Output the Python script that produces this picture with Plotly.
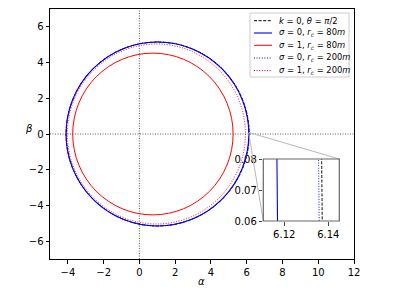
import plotly.graph_objects as go

# Shadow extents: (alpha_left, alpha_right, beta_bottom, beta_top)
names = ["<i>k</i> = 0, <i>θ</i> = <i>π</i>/2",
         "<i>σ</i> = 0, <i>r<sub>c</sub></i> = 80<i>m</i>",
         "<i>σ</i> = 1, <i>r<sub>c</sub></i> = 80<i>m</i>",
         "<i>σ</i> = 0, <i>r<sub>c</sub></i> = 200<i>m</i>",
         "<i>σ</i> = 1, <i>r<sub>c</sub></i> = 200<i>m</i>"]
alpha_left = [-4.10, -4.10, -3.73, -4.10, -4.03]
alpha_right = [6.1376, 6.1173, 5.24, 6.1362, 5.93]
beta_bottom = [-5.15, -5.15, -4.53, -5.15, -5.04]
beta_top = [5.15, 5.15, 4.53, 5.15, 5.04]

colors = ["black", "#0000ff", "#ff0000", "#0000ff", "#ff0000"]
dashes = ["3px,1.6px", "solid", "solid", "1px,1.6px", "1px,1.6px"]
widths = [1.0, 1.1, 1.0, 1.0, 1.0]

# axis ranges / ticks
x_range = [-5, 12]
y_range = [-7, 7]
x_ticks = [-4, -2, 0, 2, 4, 6, 8, 10, 12]
y_ticks = [-6, -4, -2, 0, 2, 4, 6]
inset_x_range = [6.1105, 6.145]
inset_y_range = [0.06, 0.08]
inset_x_ticks = [6.12, 6.14]
inset_y_ticks = [0.06, 0.07, 0.08]

FONT = "DejaVu Sans"
W, H = 394, 296
ML, MR, MT, MB = 50, 40, 9, 37
PW, PH = W - ML - MR, H - MT - MB


def fx(p):  # pixel x -> paper
    return (p - ML) / PW


def fy(p):  # pixel y -> paper
    return (H - MB - p) / PH


fig = go.Figure()
fig.add_trace(go.Scatter(x=[None], y=[None], xaxis="x", yaxis="y", showlegend=False))
fig.add_trace(go.Scatter(x=[None], y=[None], xaxis="x2", yaxis="y2", showlegend=False))

shapes = []
# dotted axes lines
shapes.append(dict(type="line", xref="x", yref="y", x0=x_range[0], x1=x_range[1], y0=0, y1=0,
                   line=dict(color="#333333", width=0.8, dash="1px,1.5px"), layer="above"))
shapes.append(dict(type="line", xref="x", yref="y", x0=0, x1=0, y0=y_range[0], y1=y_range[1],
                   line=dict(color="#333333", width=0.8, dash="1px,1.5px"), layer="above"))
# circles in main and inset axes
for xr, yr in (("x", "y"), ("x2", "y2")):
    for i in range(len(names)):
        shapes.append(dict(type="circle", xref=xr, yref=yr,
                           x0=alpha_left[i], x1=alpha_right[i],
                           y0=beta_bottom[i], y1=beta_top[i],
                           line=dict(color=colors[i], dash=dashes[i], width=widths[i]),
                           layer="above"))

# inset placement (paper coords)
ix0, ix1 = fx(263.3), fx(339.3)
iy0, iy1 = fy(221), fy(159)


def px(x):
    return (x - x_range[0]) / (x_range[1] - x_range[0])


def py(y):
    return (y - y_range[0]) / (y_range[1] - y_range[0])


# connectors (mark_inset loc1=1, loc2=3)
shapes.append(dict(type="line", xref="paper", yref="paper",
                   x0=px(inset_x_range[1]), y0=py(inset_y_range[1]), x1=ix1, y1=iy1,
                   line=dict(color="#b8b8b8", width=1), layer="above"))
shapes.append(dict(type="line", xref="paper", yref="paper",
                   x0=px(inset_x_range[0]), y0=py(inset_y_range[0]), x1=ix0, y1=iy0,
                   line=dict(color="#b8b8b8", width=1), layer="above"))
# inset frame
shapes.append(dict(type="rect", xref="paper", yref="paper", x0=ix0, x1=ix1, y0=iy0, y1=iy1,
                   line=dict(color="#666666", width=1.2), layer="above"))

# custom legend (box + sample lines + labels)
annotations = []
shapes.append(dict(type="rect", xref="paper", yref="paper",
                   x0=fx(250), x1=fx(349), y0=fy(77), y1=fy(13),
                   line=dict(color="#cccccc", width=1), fillcolor="rgba(255,255,255,0.8)",
                   layer="above"))
row_y = [20.7, 33.0, 45.3, 58.0, 70.5]
for i in range(len(names)):
    shapes.append(dict(type="line", xref="paper", yref="paper",
                       x0=fx(254), x1=fx(272), y0=fy(row_y[i]), y1=fy(row_y[i]),
                       line=dict(color=colors[i], dash=dashes[i], width=widths[i]),
                       layer="above"))
    annotations.append(dict(xref="paper", yref="paper", x=fx(277), y=fy(row_y[i]),
                            xanchor="left", yanchor="middle", showarrow=False,
                            text=names[i], font=dict(family=FONT, size=8.4, color="black")))

# axis titles
annotations.append(dict(xref="paper", yref="paper", x=fx(201), y=fy(281), showarrow=False,
                        text="<i>α</i>", font=dict(family=FONT, size=10, color="black"),
                        xanchor="center", yanchor="middle"))
annotations.append(dict(xref="paper", yref="paper", x=fx(29), y=fy(128), showarrow=False,
                        text="<i>β</i>", font=dict(family=FONT, size=10, color="black"),
                        xanchor="center", yanchor="middle"))

axis_common = dict(showgrid=False, zeroline=False, ticks="outside", ticklen=3.5,
                   tickwidth=0.8, tickcolor="black", showline=True, linecolor="black",
                   linewidth=1, mirror=True, automargin=False,
                   tickfont=dict(family=FONT, size=10, color="black"))

fig.update_layout(
    width=W, height=H,
    margin=dict(l=ML, r=MR, t=MT, b=MB, autoexpand=False),
    paper_bgcolor="white", plot_bgcolor="white",
    shapes=shapes, annotations=annotations,
    xaxis=dict(range=x_range, tickvals=x_ticks, ticktext=[str(v).replace("-", "−") for v in x_ticks],
               domain=[0, 1], **axis_common),
    yaxis=dict(range=y_range, tickvals=y_ticks, ticktext=[str(v).replace("-", "−") for v in y_ticks],
               domain=[0, 1], **axis_common),
    xaxis2=dict(range=inset_x_range, tickvals=inset_x_ticks, ticktext=["6.12", "6.14"],
                domain=[ix0, ix1], anchor="y2", showgrid=False, zeroline=False, ticks="outside",
                ticklen=3.5, tickwidth=0.8, showline=False, automargin=False,
                tickfont=dict(family=FONT, size=10, color="black")),
    yaxis2=dict(range=inset_y_range, tickvals=inset_y_ticks, ticktext=["0.06", "0.07", "0.08"],
                domain=[iy0, iy1], anchor="x2", showgrid=False, zeroline=False, ticks="outside",
                ticklen=3.5, tickwidth=0.8, showline=False, automargin=False,
                tickfont=dict(family=FONT, size=10, color="black")),
    showlegend=False,
)

fig.write_html("out.html", post_script="document.body.style.margin='0';",
               config={"displayModeBar": False})
